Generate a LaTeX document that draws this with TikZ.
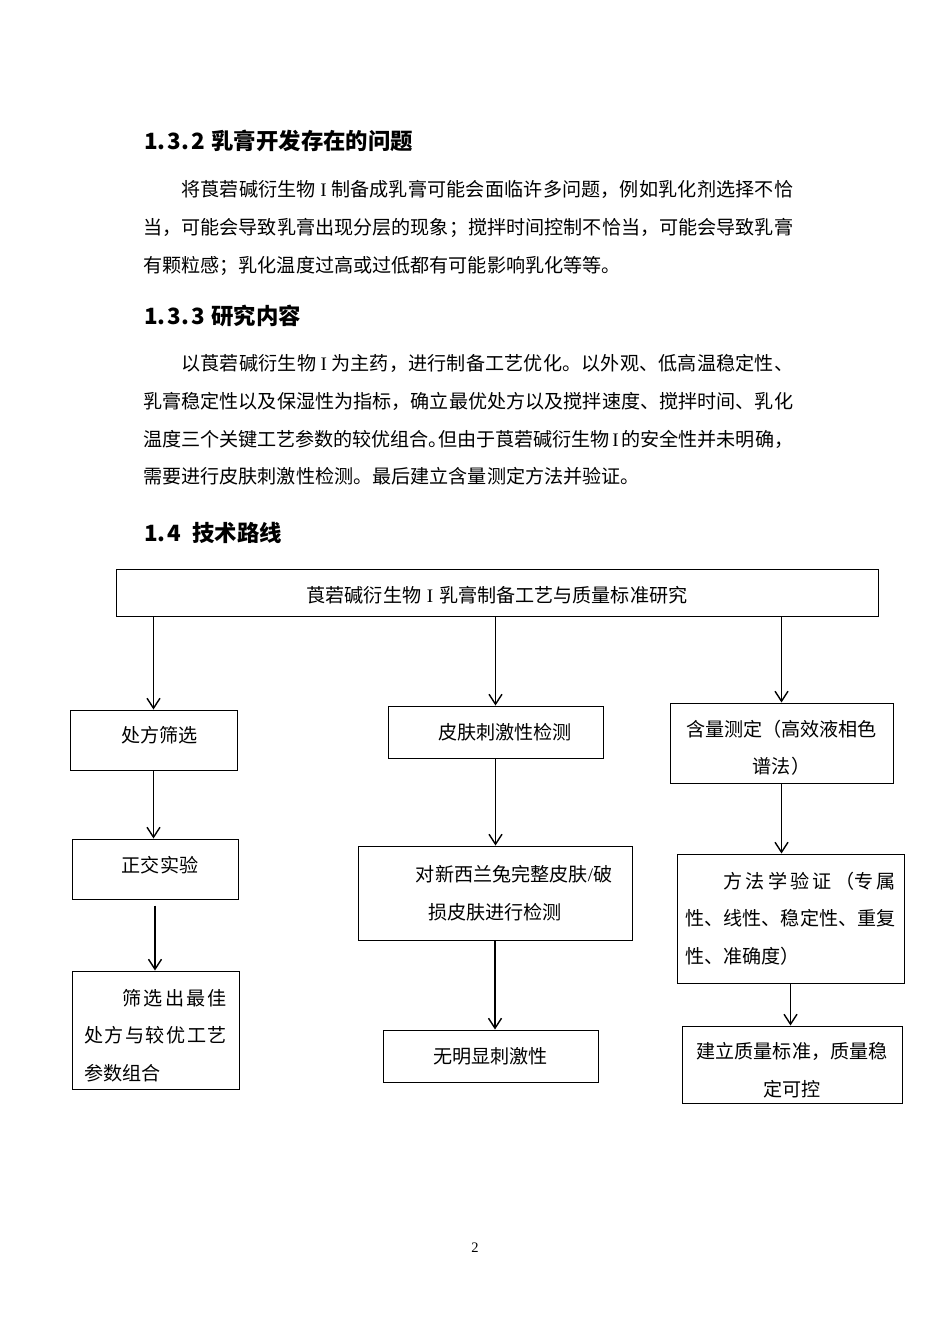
\documentclass[tikz,border=0pt]{standalone}
\usepackage{fontspec}
\setmainfont{Noto Sans CJK SC}
\newfontfamily\latfont{Liberation Serif}
\usetikzlibrary{arrows.meta}
\XeTeXlinebreaklocale "zh"
\XeTeXlinebreakskip=0pt
\newcommand{\bodyfont}{\fontsize{19.1pt}{37.6pt}\selectfont}
\newcommand{\spreadcjk}{\XeTeXlinebreakskip=0pt plus 3pt minus 0.3pt\relax}
\newcommand{\romI}{\hspace{0.2em plus 0.5em minus 0.15em}{\latfont I}\hspace{0.2em plus 0.5em minus 0.15em}}
\newcommand{\halfstop}{\makebox[0.5em][l]{。}}
\begin{document}
\begin{tikzpicture}[x=1pt, y=-1pt, >={Straight Barb[length=10pt,width=13pt]},
    procbox/.style={draw, line width=1pt, inner sep=0pt, font=\bodyfont},
    oneline/.style={text height=16pt, text depth=1.4pt},
    heading/.style={anchor=west, inner sep=0pt, font=\fontsize{22.4pt}{26pt}\selectfont\bfseries},
    para/.style={anchor=north west, inner sep=0pt, text width=650pt, align=justify, font=\bodyfont\spreadcjk}]
    \fill[white] (0,0) rectangle (950,1344);
    \useasboundingbox (0,0) rectangle (950,1344);

    % Text of the page
    \node (h1) [heading] at (144,140.5) {1.\kern2pt3.\kern2pt2\hspace{0.3em}乳膏开发存在的问题};
    \node (p1) [para] at (143,180.5) {\hspace*{2em}将莨菪碱衍生物\romI 制备成乳膏可能会面临许多问题，例如乳化剂选择不恰\linebreak 当，可能会导致乳膏出现分层的现象；搅拌时间控制不恰当，可能会导致乳膏\linebreak 有颗粒感；乳化温度过高或过低都有可能影响乳化等等。};
    \node (h2) [heading] at (144,315.5) {1.\kern2pt3.\kern2pt3\hspace{0.3em}研究内容};
    \node (p2) [para] at (143,354.5) {\hspace*{2em}以莨菪碱衍生物\romI 为主药，进行制备工艺优化。以外观、低高温稳定性、\linebreak 乳膏稳定性以及保湿性为指标，确立最优处方以及搅拌速度、搅拌时间、乳化\linebreak 温度三个关键工艺参数的较优组合\halfstop 但由于莨菪碱衍生物\romI 的安全性并未明确，\linebreak 需要进行皮肤刺激性检测。最后建立含量测定方法并验证。};
    \node (h3) [heading] at (144,533) {1.\kern2pt4\hspace{0.5em}技术路线};

    % Nodes
    \node (top) [procbox, text height=20pt, text depth=0.4pt, minimum width=762pt, minimum height=47pt] at (497,592.5) {莨菪碱衍生物\hspace{0.3em}{\latfont I}\hspace{0.3em}乳膏制备工艺与质量标准研究};

    \node (a1) [procbox, text height=16pt, text depth=11.4pt, minimum width=167pt, minimum height=60pt] at (153.5,740) {\hspace*{12pt}处方筛选};
    \node (a2) [procbox, text height=16pt, text depth=9.4pt, minimum width=166pt, minimum height=60pt] at (155,869) {\hspace*{10pt}正交实验};
    \node (a3) [procbox, text width=143pt, align=justify, minimum width=167pt, minimum height=118pt, font=\bodyfont\spreadcjk] at (155.5,1030) {\rule{0pt}{27pt}\hspace*{2em}筛选出最佳\linebreak 处方与较优工艺\linebreak 参数组合};

    \node (b1) [procbox, oneline, minimum width=215pt, minimum height=52pt] at (495.5,732) {\hspace*{19pt}皮肤刺激性检测};
    \node (b2) [procbox, text width=236pt, align=center, minimum width=274pt, minimum height=94pt] at (495,893) {\hspace*{2em}对新西兰兔完整皮肤{\latfont /}破\\损皮肤进行检测};
    \node (b3) [procbox, oneline, minimum width=215pt, minimum height=52pt] at (490.5,1056) {无明显刺激性};

    \node (c1) [procbox, text width=195pt, align=center, minimum width=223pt, minimum height=80pt] at (781.5,743) {\rule{0pt}{26pt}含量测定（高效液相色\\谱法）};
    \node (c2) [procbox, text width=211pt, align=justify, minimum width=227pt, minimum height=129pt, font=\bodyfont\spreadcjk] at (790.5,918.5) {\hspace*{2em}方法学验证（专属\linebreak 性、线性、稳定性、重复\linebreak 性、准确度）};
    \node (c3) [procbox, text width=195pt, align=center, minimum width=220pt, minimum height=77pt] at (792,1064.5) {\rule{0pt}{27pt}建立质量标准，质量稳\\定可控};

    % Arrows between the boxes
    \draw[->, line width=1.4pt] (top.south -| a1.north) -- (a1.north);
    \draw[->, line width=1.4pt] (top.south -| b1.north) -- (b1.north);
    \draw[->, line width=1.4pt] (top.south -| c1.north) -- (c1.north);
    \draw[->, line width=1.4pt] (a1.south) -- (a1.south |- a2.north);
    \draw[->, line width=1.4pt] ([yshift=-6pt]a2.south) -- (a2.south |- a3.north);
    \draw[->, line width=1.4pt] (b1.south) -- (b1.south |- b2.north);
    \draw[->, line width=1.4pt] (b2.south) -- (b2.south |- b3.north);
    \draw[->, line width=1.4pt] (c1.south) -- (c1.south |- c2.north);
    \draw[->, line width=1.4pt] (c2.south) -- (c2.south |- c3.north);

    % Page number
    \node (pg) at (475,1248) {\fontsize{14.5pt}{16pt}\selectfont\latfont 2};
\end{tikzpicture}
\end{document}
